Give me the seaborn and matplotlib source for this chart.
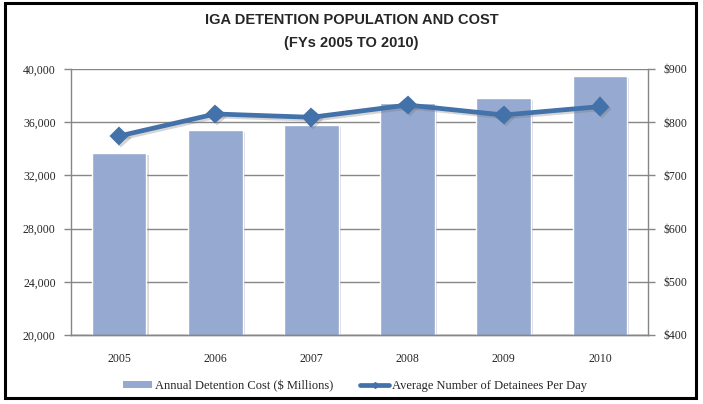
import matplotlib
matplotlib.use("Agg")
import matplotlib.pyplot as plt
import matplotlib.patheffects as pe
from matplotlib.patches import Patch, Rectangle
from matplotlib.lines import Line2D
from matplotlib.ticker import FuncFormatter
import pandas as pd
import seaborn as sns

# data
years = ["2005", "2006", "2007", "2008", "2009", "2010"]
cost = [742, 785, 795, 837, 845, 887]             # $ millions (right axis)
detainees = [34960, 36620, 36370, 37290, 36540, 37170]  # left axis
label_cost = "Annual Detention Cost ($ Millions)"
label_det = "Average Number of Detainees Per Day"

df = pd.DataFrame({"year": years, "cost": cost, "detainees": detainees})

sns.set_style("white")
bar_color = "#95A9D1"
line_color = "#4371AA"
grid_color = "#868686"
serif = ["Liberation Serif", "DejaVu Serif"]

fig = plt.figure(figsize=(7.03, 4.04), dpi=100)
ax = fig.add_axes([71 / 703, 1 - 335 / 404, 577 / 703, 266 / 404])
ax2 = ax.twinx()

# bars on the right ($) axis, drawn underneath
sns.barplot(data=df, x="year", y="cost", color=bar_color, saturation=1,
            width=0.57, ax=ax2, edgecolor="white", linewidth=1, zorder=2)
for p in ax2.patches:
    p.set_path_effects([pe.SimplePatchShadow(offset=(1.5, -1.5), shadow_rgbFace="#888888", alpha=0.3),
                        pe.Normal()])
ax2.set_ylim(400, 900)
ax2.set_yticks(range(400, 901, 100))
ax2.yaxis.set_major_formatter(FuncFormatter(lambda v, _: f"${v:,.0f}"))
ax2.grid(axis="y", color=grid_color, linewidth=1, zorder=0)
ax2.set_axisbelow(True)

# line on the left axis, drawn on top
sns.pointplot(data=df, x="year", y="detainees", color=line_color, markers="D",
              linestyles="-", markersize=7.5, linewidth=3.4, errorbar=None, ax=ax)
for ln in ax.lines:
    ln.set_path_effects([pe.SimpleLineShadow(offset=(1.5, -1.5), shadow_color="#777777", alpha=0.3),
                         pe.Normal()])
ax.set_ylim(20000, 40000)
ax.set_yticks(range(20000, 40001, 4000))
ax.yaxis.set_major_formatter(FuncFormatter(lambda v, _: f"{v:,.0f}"))
ax.set_zorder(ax2.get_zorder() + 1)
ax.patch.set_visible(False)
ax.set_xlim(-0.5, 5.5)

for a in (ax, ax2):
    a.set_xlabel("")
    a.set_ylabel("")
    a.spines["top"].set_visible(False)
    for s in ("left", "right", "bottom"):
        a.spines[s].set_color(grid_color)
        a.spines[s].set_linewidth(1)
    a.tick_params(axis="y", length=5, width=1, color=grid_color, pad=6, labelsize=8.5)
    a.tick_params(axis="x", length=0, pad=13, labelsize=8.5)
    for t in a.get_xticklabels() + a.get_yticklabels():
        t.set_family(serif)
ax.spines["right"].set_visible(False)
ax2.spines["left"].set_visible(False)

title_font = dict(family=["Liberation Sans", "DejaVu Sans"], weight="bold", size=10.5)
fig.text(0.5, 1 - 20 / 404, "IGA DETENTION POPULATION AND COST", ha="center", va="center", **title_font)
fig.text(0.5, 1 - 43 / 404, "(FYs 2005 TO 2010)", ha="center", va="center", **title_font)

handles = [Patch(facecolor=bar_color, edgecolor="none", label=label_cost),
           Line2D([0], [0], color=line_color, linewidth=3.4, marker="D", markersize=3, label=label_det)]
fig.legend(handles=handles, loc="center", bbox_to_anchor=(0.505, 1 - 386 / 404), ncol=2,
           frameon=False, prop={"family": serif, "size": 9}, handlelength=2.3, handleheight=0.5,
           handletextpad=0.2, columnspacing=2.2)

fig.patches.append(Rectangle((5 / 703, 1 - 398 / 404), 691 / 703, 395 / 404, transform=fig.transFigure,
                             fill=False, edgecolor="black", linewidth=2.2))

fig.savefig("out.png", dpi=100)
